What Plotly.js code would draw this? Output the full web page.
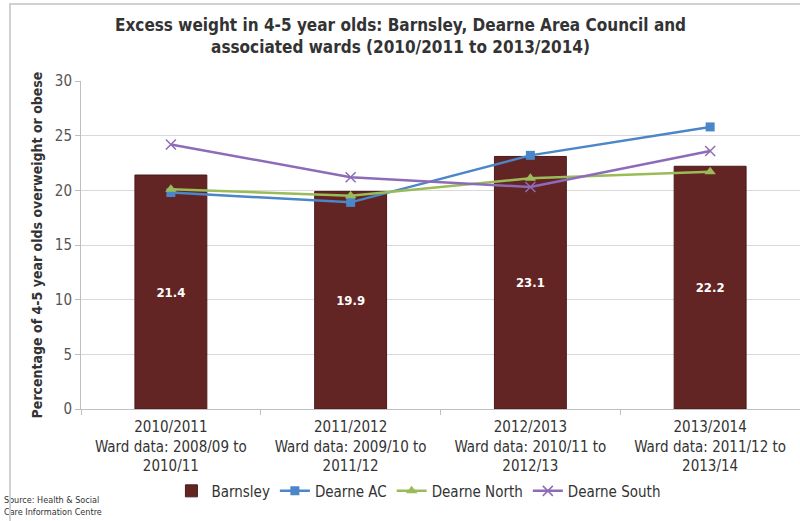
<!DOCTYPE html>
<html><head><meta charset="utf-8">
<script src="https://cdn.plot.ly/plotly-3.0.1.min.js"></script>
<style>
html,body{margin:0;padding:0;background:#fff;}
#wrap{position:relative;width:800px;height:521px;overflow:hidden;}
#chart{width:800px;height:521px;}
#frame{position:absolute;left:9px;top:3px;width:800px;height:530px;border-left:2px solid #d0d0d0;border-top:2px solid #d0d0d0;pointer-events:none;}
</style></head>
<body><div id="wrap"><div id="chart"></div><div id="frame"></div></div>
<script>
const categories = [
  "2010/2011<br>Ward data: 2008/09 to<br>2010/11",
  "2011/2012<br>Ward data: 2009/10 to<br>2011/12",
  "2012/2013<br>Ward data: 2010/11 to<br>2012/13",
  "2013/2014<br>Ward data: 2011/12 to<br>2013/14"
];
const barnsley = [21.4, 19.9, 23.1, 22.2];
const dearneAC = [19.8, 18.9, 23.2, 25.8];
const dearneNorth = [20.1, 19.5, 21.1, 21.7];
const dearneSouth = [24.2, 21.2, 20.3, 23.6];
const yTicks = [0, 5, 10, 15, 20, 25, 30];

const font = "DejaVu Sans Condensed, Liberation Sans, Arial, sans-serif";

const traces = [
  {type:'bar', name:'Barnsley', x:categories, y:barnsley, marker:{color:'#632523', line:{color:'#4a1a19', width:1}},
   width:0.4, text:barnsley.map(v=>v.toFixed(1)), textposition:'inside', insidetextanchor:'middle',
   textfont:{color:'#ffffff', size:13, family:font, weight:'bold'}, hoverinfo:'y'},
  {type:'scatter', mode:'lines+markers', name:'Dearne AC', x:categories, y:dearneAC,
   line:{color:'#4a86c8', width:2.5}, marker:{symbol:'square', size:9, color:'#4a86c8'}},
  {type:'scatter', mode:'lines+markers', name:'Dearne North', x:categories, y:dearneNorth,
   line:{color:'#9bbb59', width:2.5}, marker:{symbol:'triangle-up', size:10, color:'#9bbb59'}},
  {type:'scatter', mode:'lines+markers', name:'Dearne South', x:categories, y:dearneSouth,
   line:{color:'#8e6bb8', width:2.5}, marker:{symbol:'x-thin', size:10, color:'#8e6bb8', line:{color:'#8e6bb8', width:1.5}}}
];

const layout = {
  width:800, height:521,
  margin:{l:81, r:0, t:81, b:112},
  paper_bgcolor:'#ffffff', plot_bgcolor:'#ffffff',
  font:{family:font, color:'#404040'},
  xaxis:{type:'category', showgrid:false, showline:true, linecolor:'#bfbfbf', linewidth:1,
    ticks:'outside', tickson:'boundaries', ticklen:5, tickcolor:'#bfbfbf', ticklabelstandoff:4,
    tickfont:{size:15, color:'#333333', family:font}, automargin:false},
  yaxis:{range:[0,30], tickvals:yTicks, showgrid:true, gridcolor:'#d9d9d9', gridwidth:1,
    showline:true, linecolor:'#bfbfbf', ticks:'outside', ticklen:5, tickcolor:'#bfbfbf',
    tickfont:{size:15, color:'#555555', family:font}, zeroline:false,
    title:{text:'<b>Percentage of 4-5 year olds overweight or obese</b>', font:{size:14, color:'#333333', family:font}, standoff:8},
    automargin:false},
  legend:{orientation:'h', x:0.47, xanchor:'center', y:-0.2, yanchor:'top',
    font:{size:15, color:'#333333', family:font}, itemwidth:30, tracegroupgap:0, bgcolor:'rgba(0,0,0,0)'},
  showlegend:true,
  bargap:0.6,
  annotations:[
    {text:'<b>Excess weight in 4-5 year olds: Barnsley, Dearne Area Council and<br>associated wards (2010/2011 to 2013/2014)</b>',
     xref:'paper', yref:'paper', x:0.444, xanchor:'center', y:1.136, yanchor:'middle', showarrow:false, align:'center',
     font:{size:17, color:'#333333', family:font}},
    {text:'Source: Health & Social<br>Care Information Centre', xref:'paper', yref:'paper', x:-0.11, xanchor:'left',
     y:-0.255, yanchor:'top', showarrow:false, align:'left', font:{size:9, color:'#333333', family:font}}
  ]
};

Plotly.newPlot('chart', traces, layout, {displayModeBar:false, staticPlot:true});
</script></body></html>
